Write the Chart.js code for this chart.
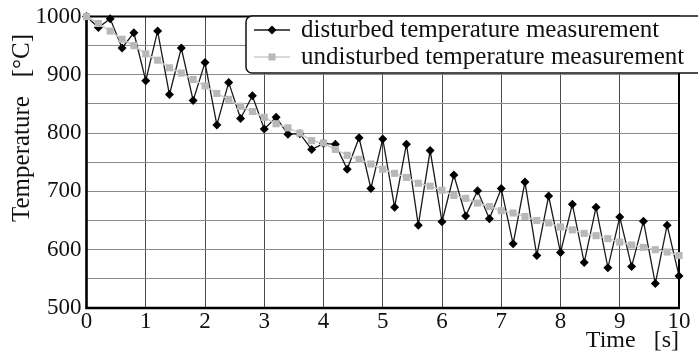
<!DOCTYPE html>
<html>
<head>
<meta charset="utf-8">
<script src="https://cdn.jsdelivr.net/npm/chart.js@4.4.0/dist/chart.umd.min.js"></script>
<style>
  html, body { margin: 0; padding: 0; background: #ffffff; }
  #wrap { width: 698px; height: 361px; }
</style>
</head>
<body>
<div id="wrap"><canvas id="tempChart"></canvas></div>
<script>
// time axis [s]
const times = [0, 0.2, 0.4, 0.6, 0.8, 1.0, 1.2, 1.4, 1.6, 1.8,
               2.0, 2.2, 2.4, 2.6, 2.8, 3.0, 3.2, 3.4, 3.6, 3.8,
               4.0, 4.2, 4.4, 4.6, 4.8, 5.0, 5.2, 5.4, 5.6, 5.8,
               6.0, 6.2, 6.4, 6.6, 6.8, 7.0, 7.2, 7.4, 7.6, 7.8,
               8.0, 8.2, 8.4, 8.6, 8.8, 9.0, 9.2, 9.4, 9.6, 9.8, 10.0];

const disturbed = [1000, 981, 996, 946, 972, 890, 975, 866, 946, 856,
                   921, 814, 887, 825, 864, 807, 827, 798, 799, 772,
                   782, 781, 738, 792, 705, 790, 673, 781, 642, 770,
                   648, 728, 658, 701, 653, 705, 610, 716, 590, 692,
                   595, 678, 578, 673, 569, 656, 571, 649, 542, 642, 555];

const undisturbed = [1000, 988, 975, 961, 950, 936, 925, 912, 903, 892,
                     881, 868, 858, 846, 837, 827, 816, 809, 800, 787,
                     783, 772, 762, 755, 747, 738, 731, 724, 714, 709,
                     702, 693, 688, 680, 674, 667, 663, 657, 650, 646,
                     639, 634, 628, 624, 619, 613, 608, 604, 600, 596, 590];

const seriesNames = ['disturbed temperature measurement', 'undisturbed temperature measurement'];
const xTitle = 'Time   [s]';
const yTitle = 'Temperature   [\u00B0C]';

const serif = "'Liberation Serif', 'Times New Roman', serif";

function toPoints(vals) {
    return times.map((t, i) => ({ x: t, y: vals[i] }));
}

// marker drawing for the inset legend
function drawMarker(ctx, style, x, y, r, color) {
    ctx.fillStyle = color;
    ctx.beginPath();
    if (style === 'rectRot') {
        ctx.moveTo(x, y - r);
        ctx.lineTo(x + r, y);
        ctx.lineTo(x, y + r);
        ctx.lineTo(x - r, y);
        ctx.closePath();
    } else {
        const s = r * Math.SQRT1_2;
        ctx.rect(x - s, y - s, 2 * s, 2 * s);
    }
    ctx.fill();
}

const framePlugin = {
    id: 'frame',
    beforeDatasetsDraw(chart) {
        const { ctx, chartArea: a } = chart;
        ctx.save();
        ctx.strokeStyle = '#000000';
        ctx.lineWidth = 2;
        ctx.beginPath();
        ctx.moveTo(a.left, a.top);
        ctx.lineTo(a.right, a.top);
        ctx.lineTo(a.right, a.bottom);
        ctx.stroke();
        ctx.lineWidth = 2.6;
        ctx.beginPath();
        ctx.moveTo(a.left, a.top - 1);
        ctx.lineTo(a.left, a.bottom);
        ctx.lineTo(a.right + 1, a.bottom);
        ctx.stroke();
        ctx.restore();
    },
    afterDraw(chart) {
        const { ctx } = chart;
        ctx.save();

        // y axis title
        ctx.translate(22, 128);
        ctx.rotate(-Math.PI / 2);
        ctx.fillStyle = '#111111';
        ctx.font = '25px ' + serif;
        ctx.textAlign = 'center';
        ctx.textBaseline = 'middle';
        ctx.fillText(yTitle, 0, 0);
        ctx.setTransform(1, 0, 0, 1, 0, 0);

        // inset legend box
        ctx.beginPath();
        ctx.roundRect(246, 16, 470, 57, 6);
        ctx.fillStyle = '#ffffff';
        ctx.fill();
        ctx.strokeStyle = '#111111';
        ctx.lineWidth = 1.5;
        ctx.stroke();

        chart.data.datasets.forEach((ds, i) => {
            const y = 30 + i * 27;
            ctx.strokeStyle = ds.borderColor;
            ctx.lineWidth = ds.borderWidth;
            ctx.beginPath();
            ctx.moveTo(254, y);
            ctx.lineTo(290, y);
            ctx.stroke();
            drawMarker(ctx, ds.pointStyle, 272, y, ds.pointRadius, ds.pointBackgroundColor);
            ctx.fillStyle = '#111111';
            ctx.font = '25px ' + serif;
            ctx.textAlign = 'left';
            ctx.textBaseline = 'middle';
            ctx.fillText(ds.label, 301, y);
        });
        ctx.restore();
    }
};

new Chart(document.getElementById('tempChart'), {
    type: 'line',
    data: {
        datasets: [{
            label: seriesNames[0],
            data: toPoints(disturbed),
            borderColor: '#1a1a1a',
            borderWidth: 1.3,
            pointStyle: 'rectRot',
            pointRadius: 4.5,
            pointBackgroundColor: '#000000',
            pointBorderWidth: 0,
            tension: 0,
            clip: false,
            order: 1
        }, {
            label: seriesNames[1],
            data: toPoints(undisturbed),
            borderColor: '#cccccc',
            borderWidth: 1.5,
            pointStyle: 'rect',
            pointRadius: 5,
            pointBackgroundColor: '#b8b8b8',
            pointBorderWidth: 0,
            tension: 0,
            clip: false,
            order: 0
        }]
    },
    options: {
        responsive: true,
        maintainAspectRatio: false,
        animation: false,
        layout: {
            padding: { top: 12, right: 19, left: 0, bottom: 0 }
        },
        plugins: {
            legend: { display: false },
            tooltip: { enabled: false }
        },
        scales: {
            x: {
                type: 'linear',
                min: 0,
                max: 10,
                afterFit: (s) => { s.height = 53; },
                border: { display: false },
                grid: {
                    color: '#4a4a4a',
                    lineWidth: 1,
                    drawTicks: false
                },
                ticks: {
                    stepSize: 1,
                    padding: 2,
                    maxRotation: 0,
                    color: '#111111',
                    font: { family: serif, size: 23, lineHeight: 1 }
                },
                title: {
                    display: true,
                    text: xTitle,
                    align: 'end',
                    color: '#111111',
                    padding: { top: 0, bottom: 6 },
                    font: { family: serif, size: 24, lineHeight: 1.2 }
                }
            },
            y: {
                min: 500,
                max: 1000,
                afterFit: (s) => { s.width = 86.5; },
                border: { display: false },
                grid: {
                    color: '#8a8a8a',
                    lineWidth: 1,
                    drawTicks: false
                },
                ticks: {
                    stepSize: 50,
                    padding: 5,
                    color: '#111111',
                    font: { family: serif, size: 23, lineHeight: 1 },
                    callback: (v) => (v % 100 === 0 ? v : '')
                }
            }
        }
    },
    plugins: [framePlugin]
});
</script>
</body>
</html>
